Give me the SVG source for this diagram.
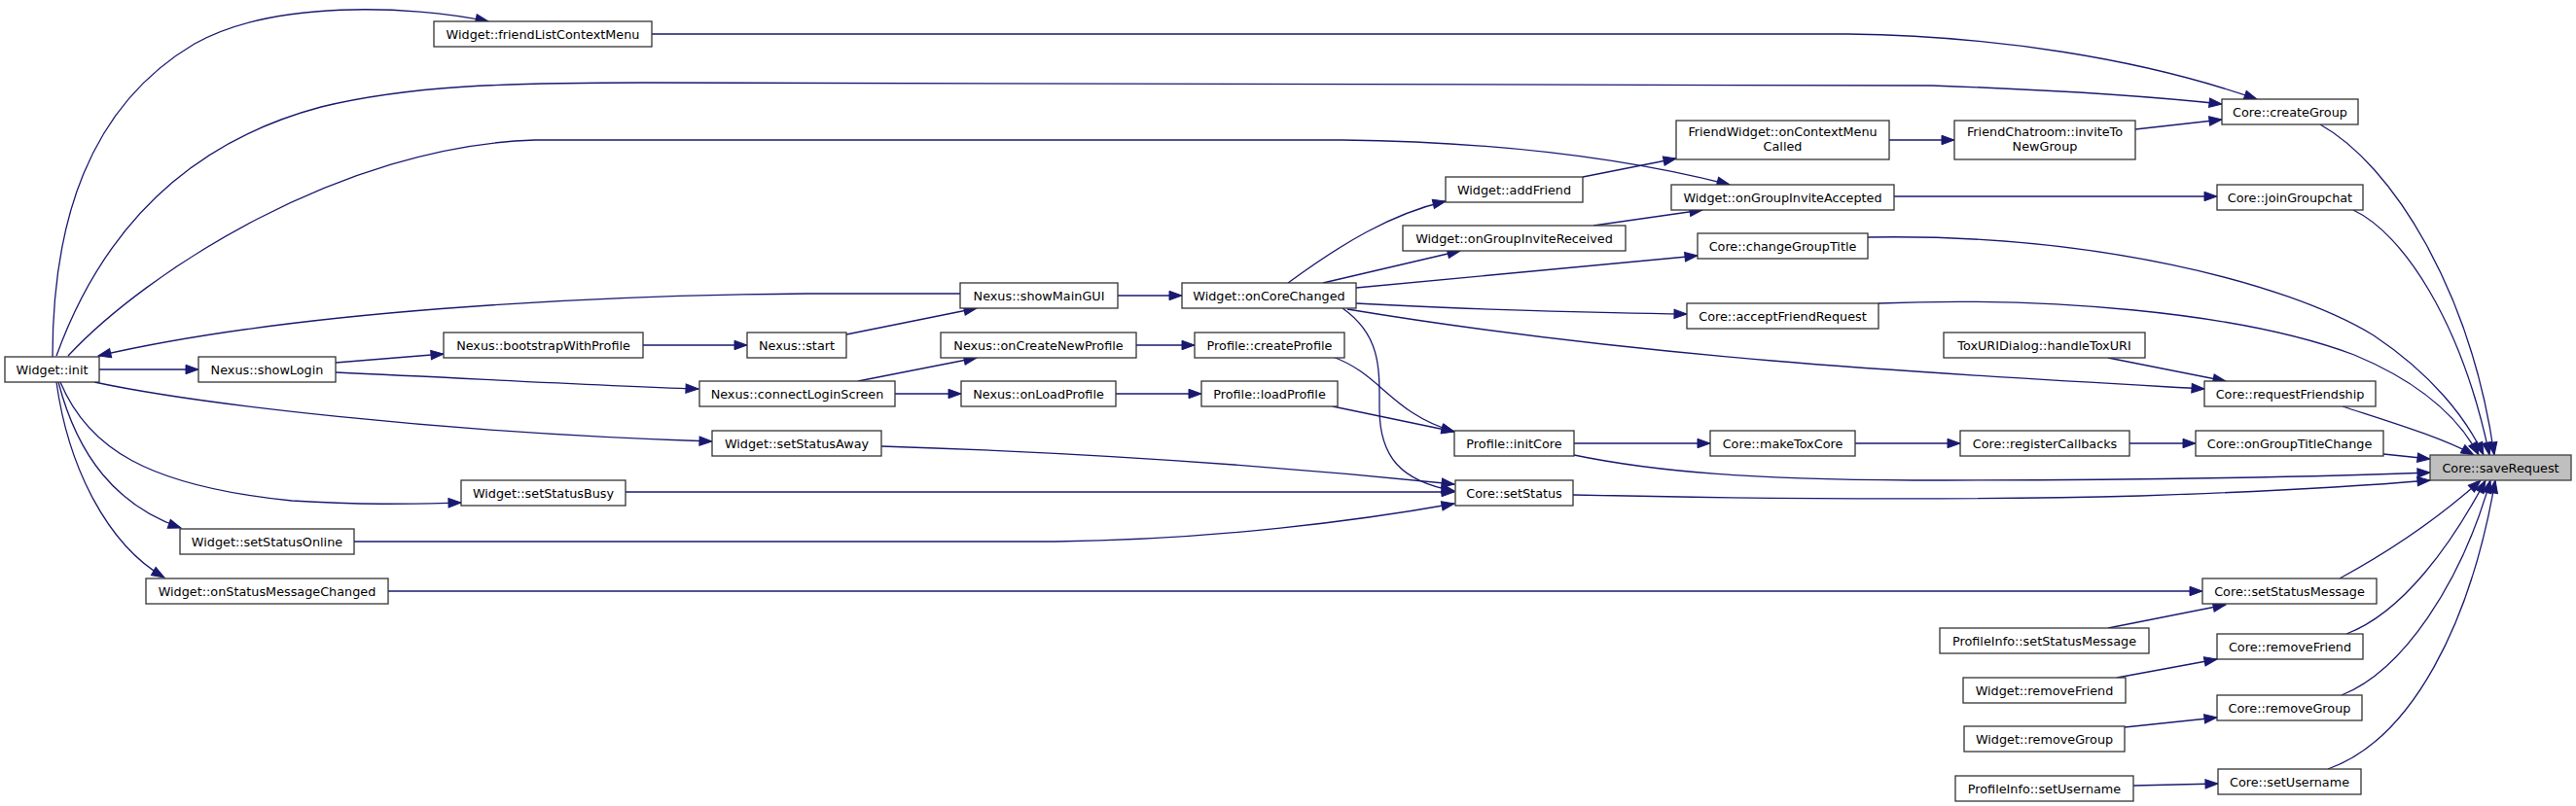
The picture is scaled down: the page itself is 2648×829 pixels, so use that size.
<svg xmlns="http://www.w3.org/2000/svg" width="2648" height="829" viewBox="0 0 2648 829">
<style>
.n rect{fill:#ffffff;stroke:#333333;stroke-width:1.3}
.n.s rect{fill:#bfbfbf;stroke:#404040}
.n text{font-family:"DejaVu Sans","Liberation Sans",sans-serif;font-size:12.8px;fill:#000000;text-anchor:middle}
.e{fill:none;stroke:#191970;stroke-width:1.3}
</style>
<defs>
<marker id="ah" markerUnits="userSpaceOnUse" markerWidth="13" markerHeight="9.4" viewBox="0 0 13 9.4" refX="13" refY="4.7" orient="auto" style="overflow:visible">
<path d="M0,0 L13,4.7 L0,9.4 z" fill="#191970" stroke="#191970" stroke-width="1"/>
</marker>
</defs>
<rect x="0" y="0" width="2648" height="829" fill="#ffffff"/>
<g id="edges" marker-end="url(#ah)">
<path class="e" marker-end="url(#ah)" d="M54,367 C54,230 90,110 200,45 C280,0 420,5 502,22"/>
<path class="e" marker-end="url(#ah)" d="M670,35 L1900,35 C2050,37 2200,60 2320,102"/>
<path class="e" marker-end="url(#ah)" d="M58,366 C100,250 180,150 330,110 C420,88 520,85 662,85 L1986,88 C2100,92 2200,98 2284,107"/>
<path class="e" marker-end="url(#ah)" d="M70,366 C150,280 350,150 550,144 L1380,144 C1550,146 1680,165 1778,190"/>
<path class="e" marker-end="url(#ah)" d="M987,302 L830,302 C600,304 300,320 101,366"/>
<path class="e" marker-end="url(#ah)" d="M102,380 L204,380"/>
<path class="e" marker-end="url(#ah)" d="M345,373 L456,364"/>
<path class="e" marker-end="url(#ah)" d="M345,383 C500,390 600,396 718,400"/>
<path class="e" marker-end="url(#ah)" d="M661,355 L768,355"/>
<path class="e" marker-end="url(#ah)" d="M870,344 L1004,317"/>
<path class="e" marker-end="url(#ah)" d="M1149,304 L1215,304"/>
<path class="e" marker-end="url(#ah)" d="M882,392 L1004,368"/>
<path class="e" marker-end="url(#ah)" d="M920,405 L988,405"/>
<path class="e" marker-end="url(#ah)" d="M1168,355 L1228,355"/>
<path class="e" marker-end="url(#ah)" d="M1147,405 L1235,405"/>
<path class="e" marker-end="url(#ah)" d="M97,393 C200,415 450,445 732,454"/>
<path class="e" marker-end="url(#ah)" d="M1370,367 C1420,385 1430,425 1495,444"/>
<path class="e" marker-end="url(#ah)" d="M1370,418 L1495,444"/>
<path class="e" marker-end="url(#ah)" d="M1380,317 C1420,345 1418,380 1418,420 C1418,470 1440,495 1495,505"/>
<path class="e" marker-end="url(#ah)" d="M906,459 C1100,465 1300,478 1495,498"/>
<path class="e" marker-end="url(#ah)" d="M643,506 L1495,506"/>
<path class="e" marker-end="url(#ah)" d="M364,557 L1084,557 C1250,555 1400,535 1495,518"/>
<path class="e" marker-end="url(#ah)" d="M62,393 C90,460 150,500 300,515 C380,520 430,518 474,517"/>
<path class="e" marker-end="url(#ah)" d="M60,393 C80,470 120,520 186,543"/>
<path class="e" marker-end="url(#ah)" d="M58,393 C70,480 110,560 169,594"/>
<path class="e" marker-end="url(#ah)" d="M399,608 L2264,608"/>
<path class="e" marker-end="url(#ah)" d="M1324,291 C1380,250 1430,220 1486,207"/>
<path class="e" marker-end="url(#ah)" d="M1360,291 L1501,258"/>
<path class="e" marker-end="url(#ah)" d="M1394,296 L1745,263"/>
<path class="e" marker-end="url(#ah)" d="M1394,312 C1500,318 1650,322 1734,323"/>
<path class="e" marker-end="url(#ah)" d="M1385,318 C1700,370 2000,385 2266,400"/>
<path class="e" marker-end="url(#ah)" d="M1627,182 L1723,163"/>
<path class="e" marker-end="url(#ah)" d="M1638,232 L1750,216"/>
<path class="e" marker-end="url(#ah)" d="M1942,144 L2009,144"/>
<path class="e" marker-end="url(#ah)" d="M2195,133 L2284,123"/>
<path class="e" marker-end="url(#ah)" d="M1947,202 L2279,202"/>
<path class="e" marker-end="url(#ah)" d="M1618,456 L1758,456"/>
<path class="e" marker-end="url(#ah)" d="M1907,456 L2015,456"/>
<path class="e" marker-end="url(#ah)" d="M2189,456 L2257,456"/>
<path class="e" marker-end="url(#ah)" d="M2167,368 L2288,392"/>
<path class="e" marker-end="url(#ah)" d="M2167,646 L2288,622"/>
<path class="e" marker-end="url(#ah)" d="M2176,697 L2279,678"/>
<path class="e" marker-end="url(#ah)" d="M2184,748 L2279,738"/>
<path class="e" marker-end="url(#ah)" d="M2193,808 L2280,806"/>
<path class="e" marker-end="url(#ah)" d="M1931,312 C2100,305 2300,320 2420,365 C2480,390 2525,425 2548,468"/>
<path class="e" marker-end="url(#ah)" d="M1920,244 C2150,240 2350,290 2440,345 C2500,385 2535,430 2553,468"/>
<path class="e" marker-end="url(#ah)" d="M2419,216 C2470,240 2530,330 2559,468"/>
<path class="e" marker-end="url(#ah)" d="M2385,128 C2460,170 2540,300 2564,468"/>
<path class="e" marker-end="url(#ah)" d="M2408,418 C2460,435 2510,450 2543,468"/>
<path class="e" marker-end="url(#ah)" d="M2450,467 L2498,472"/>
<path class="e" marker-end="url(#ah)" d="M1618,468 C1700,485 1800,494 2000,494 C2200,494 2400,490 2498,486"/>
<path class="e" marker-end="url(#ah)" d="M1617,509 C1800,513 2000,515 2200,510 C2350,505 2450,498 2498,494"/>
<path class="e" marker-end="url(#ah)" d="M2405,595 C2460,565 2510,530 2550,494"/>
<path class="e" marker-end="url(#ah)" d="M2412,652 C2470,630 2520,560 2555,494"/>
<path class="e" marker-end="url(#ah)" d="M2407,715 C2470,690 2530,600 2560,494"/>
<path class="e" marker-end="url(#ah)" d="M2393,791 C2480,760 2540,640 2565,494"/>
</g>
<g id="n_init" class="n"><rect x="5" y="367" width="97" height="26"/><text x="53.5" y="384.5">Widget::init</text></g>
<g id="n_flcm" class="n"><rect x="446" y="22" width="224" height="26"/><text x="558" y="39.5">Widget::friendListContextMenu</text></g>
<g id="n_showLogin" class="n"><rect x="204" y="367" width="141" height="26"/><text x="274.5" y="384.5">Nexus::showLogin</text></g>
<g id="n_boot" class="n"><rect x="456" y="342" width="205" height="26"/><text x="558.5" y="359.5">Nexus::bootstrapWithProfile</text></g>
<g id="n_start" class="n"><rect x="768" y="342" width="102" height="26"/><text x="819" y="359.5">Nexus::start</text></g>
<g id="n_showMainGUI" class="n"><rect x="987" y="291" width="162" height="26"/><text x="1068" y="308.5">Nexus::showMainGUI</text></g>
<g id="n_onCoreChanged" class="n"><rect x="1215" y="291" width="179" height="26"/><text x="1304.5" y="308.5">Widget::onCoreChanged</text></g>
<g id="n_connect" class="n"><rect x="719" y="392" width="201" height="26"/><text x="819.5" y="409.5">Nexus::connectLoginScreen</text></g>
<g id="n_onCreate" class="n"><rect x="967" y="342" width="201" height="26"/><text x="1067.5" y="359.5">Nexus::onCreateNewProfile</text></g>
<g id="n_onLoad" class="n"><rect x="988" y="392" width="159" height="26"/><text x="1067.5" y="409.5">Nexus::onLoadProfile</text></g>
<g id="n_createProfile" class="n"><rect x="1228" y="342" width="154" height="26"/><text x="1305" y="359.5">Profile::createProfile</text></g>
<g id="n_loadProfile" class="n"><rect x="1235" y="392" width="140" height="26"/><text x="1305" y="409.5">Profile::loadProfile</text></g>
<g id="n_setAway" class="n"><rect x="732" y="443" width="174" height="26"/><text x="819" y="460.5">Widget::setStatusAway</text></g>
<g id="n_setBusy" class="n"><rect x="474" y="494" width="169" height="26"/><text x="558.5" y="511.5">Widget::setStatusBusy</text></g>
<g id="n_setOnline" class="n"><rect x="185" y="544" width="179" height="26"/><text x="274.5" y="561.5">Widget::setStatusOnline</text></g>
<g id="n_onStatusMsg" class="n"><rect x="150" y="595" width="249" height="26"/><text x="274.5" y="612.5">Widget::onStatusMessageChanged</text></g>
<g id="n_addFriend" class="n"><rect x="1486" y="182" width="141" height="26"/><text x="1556.5" y="199.5">Widget::addFriend</text></g>
<g id="n_onGIR" class="n"><rect x="1442" y="232" width="229" height="26"/><text x="1556.5" y="249.5">Widget::onGroupInviteReceived</text></g>
<g id="n_initCore" class="n"><rect x="1495" y="443" width="123" height="26"/><text x="1556.5" y="460.5">Profile::initCore</text></g>
<g id="n_setStatus" class="n"><rect x="1496" y="494" width="121" height="26"/><text x="1556.5" y="511.5">Core::setStatus</text></g>
<g id="n_ctxMenu" class="n"><rect x="1723" y="124" width="219" height="40"/><text x="1832.5" y="140">FriendWidget::onContextMenu</text><text x="1832.5" y="155">Called</text></g>
<g id="n_onGIA" class="n"><rect x="1718" y="190" width="229" height="26"/><text x="1832.5" y="207.5">Widget::onGroupInviteAccepted</text></g>
<g id="n_changeGT" class="n"><rect x="1745" y="240" width="175" height="26"/><text x="1832.5" y="257.5">Core::changeGroupTitle</text></g>
<g id="n_acceptFR" class="n"><rect x="1734" y="312" width="197" height="26"/><text x="1832.5" y="329.5">Core::acceptFriendRequest</text></g>
<g id="n_makeTox" class="n"><rect x="1758" y="443" width="149" height="26"/><text x="1832.5" y="460.5">Core::makeToxCore</text></g>
<g id="n_invite" class="n"><rect x="2009" y="124" width="186" height="40"/><text x="2102" y="140">FriendChatroom::inviteTo</text><text x="2102" y="155">NewGroup</text></g>
<g id="n_handleTox" class="n"><rect x="1998" y="342" width="207" height="26"/><text x="2101.5" y="359.5">ToxURIDialog::handleToxURI</text></g>
<g id="n_regCb" class="n"><rect x="2015" y="443" width="174" height="26"/><text x="2102" y="460.5">Core::registerCallbacks</text></g>
<g id="n_piSSM" class="n"><rect x="1994" y="646" width="215" height="26"/><text x="2101.5" y="663.5">ProfileInfo::setStatusMessage</text></g>
<g id="n_wRemoveFriend" class="n"><rect x="2018" y="697" width="167" height="26"/><text x="2101.5" y="714.5">Widget::removeFriend</text></g>
<g id="n_wRemoveGroup" class="n"><rect x="2019" y="747" width="165" height="26"/><text x="2101.5" y="764.5">Widget::removeGroup</text></g>
<g id="n_piSetUser" class="n"><rect x="2010" y="798" width="183" height="26"/><text x="2101.5" y="815.5">ProfileInfo::setUsername</text></g>
<g id="n_createGroup" class="n"><rect x="2284" y="102" width="140" height="26"/><text x="2354" y="119.5">Core::createGroup</text></g>
<g id="n_joinGC" class="n"><rect x="2279" y="190" width="150" height="26"/><text x="2354" y="207.5">Core::joinGroupchat</text></g>
<g id="n_reqFr" class="n"><rect x="2266" y="392" width="176" height="26"/><text x="2354" y="409.5">Core::requestFriendship</text></g>
<g id="n_onGTC" class="n"><rect x="2257" y="443" width="193" height="26"/><text x="2353.5" y="460.5">Core::onGroupTitleChange</text></g>
<g id="n_ssm" class="n"><rect x="2264" y="595" width="179" height="26"/><text x="2353.5" y="612.5">Core::setStatusMessage</text></g>
<g id="n_removeFriend" class="n"><rect x="2279" y="652" width="150" height="26"/><text x="2354" y="669.5">Core::removeFriend</text></g>
<g id="n_removeGroup" class="n"><rect x="2279" y="715" width="149" height="26"/><text x="2353.5" y="732.5">Core::removeGroup</text></g>
<g id="n_setUsername" class="n"><rect x="2280" y="791" width="147" height="26"/><text x="2353.5" y="808.5">Core::setUsername</text></g>
<g id="n_save" class="n s"><rect x="2498" y="468" width="145" height="26"/><text x="2570.5" y="485.5">Core::saveRequest</text></g>
</svg>
